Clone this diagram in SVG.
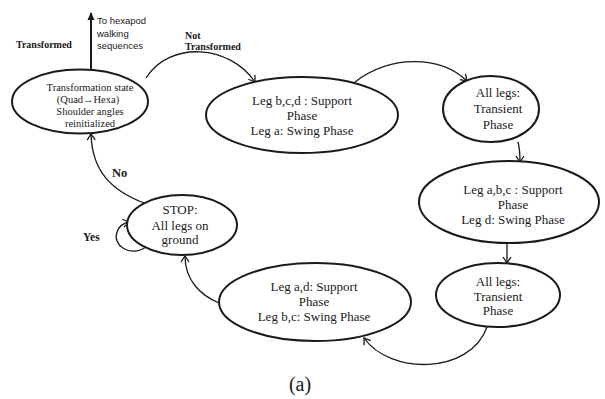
<svg xmlns="http://www.w3.org/2000/svg" width="605" height="399" viewBox="0 0 605 399">
<style>
.node{fill:#fff;stroke:#1a1a1a;stroke-width:2}
.t{font-family:"Liberation Serif","Times New Roman",serif;font-size:13px;fill:#1a1a1a;text-anchor:middle}
.ts{font-family:"Liberation Serif","Times New Roman",serif;font-size:10.5px;fill:#1a1a1a;text-anchor:middle}
.lb{font-family:"Liberation Serif","Times New Roman",serif;font-weight:bold;fill:#1a1a1a}
.sans{font-family:"Liberation Sans",Arial,sans-serif;font-size:9.5px;fill:#1a1a1a}
.c{fill:none;stroke:#1a1a1a;stroke-width:1.3}
</style>
<defs>
<marker id="ah" markerWidth="10" markerHeight="10" refX="8" refY="5" orient="auto" markerUnits="userSpaceOnUse">
<path d="M2,1 L8,5 L2,9" fill="none" stroke="#1a1a1a" stroke-width="1.3"/>
</marker>
<marker id="fh" markerWidth="10" markerHeight="10" refX="8" refY="5" orient="auto" markerUnits="userSpaceOnUse">
<path d="M1,1.5 L9,5 L1,8.5 Z" fill="#1a1a1a"/>
</marker>
</defs>
<rect width="605" height="399" fill="#fff"/>
<g id="connectors">
<path class="c" d="M91,70 L91,13" style="stroke-width:2" marker-end="url(#fh)"/>
<path class="c" d="M146,78 C170,40 230,45 255,82" marker-end="url(#ah)"/>
<path class="c" d="M355,82 C390,55 440,55 467,81" marker-end="url(#ah)"/>
<path class="c" d="M518,142 C520,150 520,155 520,162" marker-end="url(#ah)"/>
<path class="c" d="M507,243 L507,263" marker-end="url(#ah)"/>
<path class="c" d="M487,327 C470,375 390,375 364,338" marker-end="url(#ah)"/>
<path class="c" d="M219,303 C200,295 185,280 185,256" marker-end="url(#ah)"/>
<path class="c" d="M144,203 C110,190 92,170 91,134" marker-end="url(#ah)"/>
<path class="c" d="M146,247 C130,258 112,245 117,232 C119,226 124,223 129,222" marker-end="url(#ah)"/>
</g>
<g id="labels">
<text class="lb" x="16" y="48" font-size="10">Transformed</text>
<text class="sans" x="97" y="24">To hexapod</text>
<text class="sans" x="97" y="37">walking</text>
<text class="sans" x="97" y="49">sequences</text>
<text class="lb" x="185" y="39" font-size="10">Not</text>
<text class="lb" x="185" y="50" font-size="10">Transformed</text>
<text class="lb" x="112" y="177" font-size="12.5">No</text>
<text class="lb" x="83" y="241" font-size="11.5">Yes</text>
<text x="300" y="391" font-family="Liberation Serif, Times New Roman, serif" font-size="20" fill="#1a1a1a" text-anchor="middle">(a)</text>
</g>
<g id="n1">
<ellipse class="node" cx="80" cy="101.5" rx="68" ry="32"/>
<text class="ts" x="90" y="91">Transformation state</text>
<text class="ts" x="88" y="103">(Quad→Hexa)</text>
<text class="ts" x="90" y="115">Shoulder angles</text>
<text class="ts" x="90" y="127">reinitialized</text>
</g>
<g id="n2">
<ellipse class="node" cx="302" cy="115" rx="96" ry="38"/>
<text class="t" x="302" y="105">Leg b,c,d : Support</text>
<text class="t" x="302" y="120">Phase</text>
<text class="t" x="302" y="135">Leg a: Swing Phase</text>
</g>
<g id="n3">
<ellipse class="node" cx="491" cy="109" rx="48" ry="33"/>
<text class="t" x="498" y="97">All legs:</text>
<text class="t" x="498" y="113">Transient</text>
<text class="t" x="498" y="129">Phase</text>
</g>
<g id="n4">
<ellipse class="node" cx="509" cy="202" rx="90" ry="41"/>
<text class="t" x="513" y="194">Leg a,b,c : Support</text>
<text class="t" x="513" y="209">Phase</text>
<text class="t" x="513" y="224">Leg d: Swing Phase</text>
</g>
<g id="n5">
<ellipse class="node" cx="498" cy="295" rx="62" ry="32"/>
<text class="t" x="498" y="286">All legs:</text>
<text class="t" x="498" y="301">Transient</text>
<text class="t" x="498" y="315">Phase</text>
</g>
<g id="n6">
<ellipse class="node" cx="315" cy="302" rx="96" ry="39"/>
<text class="t" x="314" y="291">Leg a,d: Support</text>
<text class="t" x="314" y="306">Phase</text>
<text class="t" x="314" y="321">Leg b,c: Swing Phase</text>
</g>
<g id="n7">
<ellipse class="node" cx="182" cy="225" rx="55" ry="30"/>
<text class="t" x="180" y="214" font-size="14">STOP:</text>
<text class="t" x="180" y="230" font-size="14">All legs on</text>
<text class="t" x="180" y="244" font-size="14">ground</text>
</g>
</svg>
